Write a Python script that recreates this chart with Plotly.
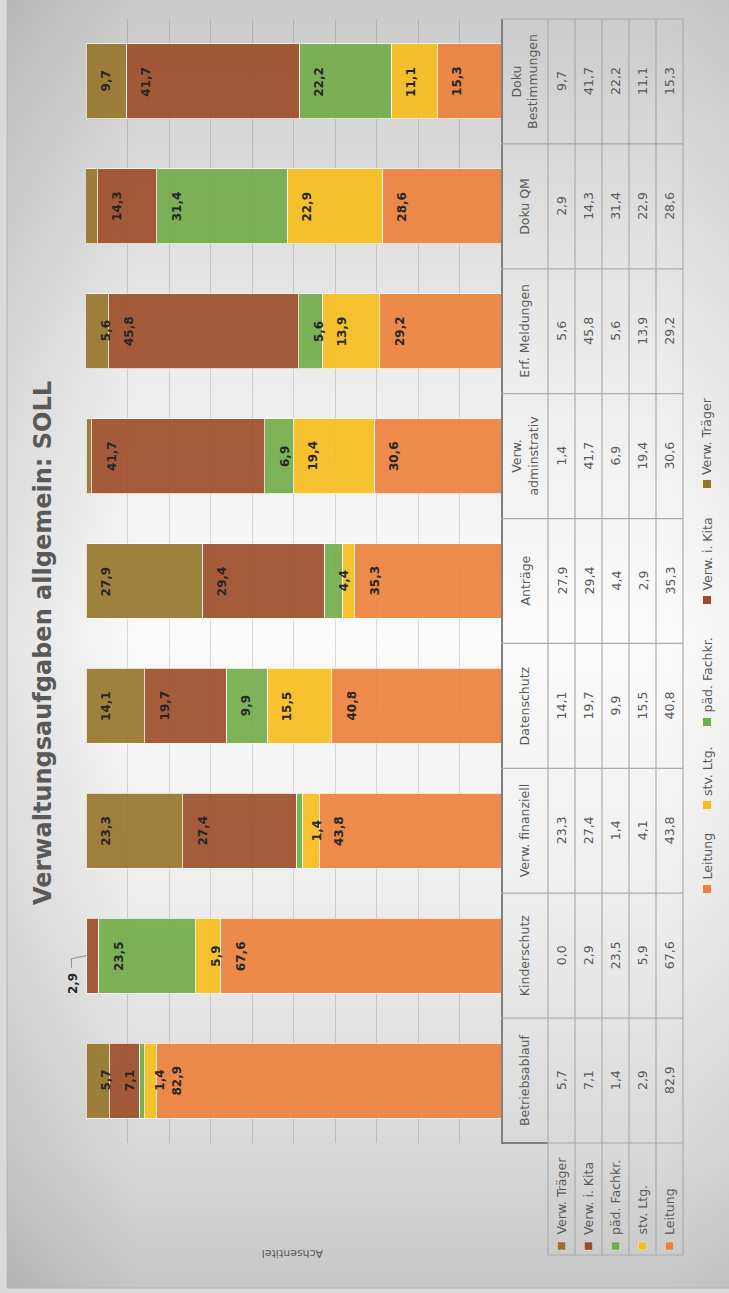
import base64
import plotly.graph_objects as go

# ---------------- data ----------------
categories = ["Betriebsablauf", "Kinderschutz", "Verw. finanziell", "Datenschutz", "Anträge",
              "Verw. adminstrativ", "Erf. Meldungen", "Doku QM", "Doku Bestimmungen"]
category_labels = ["Betriebsablauf", "Kinderschutz", "Verw. finanziell", "Datenschutz", "Anträge",
                   "Verw.<br>adminstrativ", "Erf. Meldungen", "Doku QM", "Doku<br>Bestimmungen"]
series_names = ["Leitung", "stv. Ltg.", "päd. Fachkr.", "Verw. i. Kita", "Verw. Träger"]

leitung      = [82.9, 67.6, 43.8, 40.8, 35.3, 30.6, 29.2, 28.6, 15.3]
stv_ltg      = [2.9, 5.9, 4.1, 15.5, 2.9, 19.4, 13.9, 22.9, 11.1]
paed_fachkr  = [1.4, 23.5, 1.4, 9.9, 4.4, 6.9, 5.6, 31.4, 22.2]
verw_kita    = [7.1, 2.9, 27.4, 19.7, 29.4, 41.7, 45.8, 14.3, 41.7]
verw_traeger = [5.7, 0.0, 23.3, 14.1, 27.9, 1.4, 5.6, 2.9, 9.7]

# which bar labels are shown inside the bars
show_leitung      = [True] * 9
show_stv_ltg      = [False, True, False, True, False, True, True, True, True]
show_paed_fachkr  = [True] * 9
show_verw_kita    = [True, False, True, True, True, True, True, True, True]
show_verw_traeger = [True, False, True, True, True, False, True, False, True]
# label moved outside the bar with a leader line (series, category)
callout = ("Verw. i. Kita", "Kinderschutz")

series_values = [leitung, stv_ltg, paed_fachkr, verw_kita, verw_traeger]
series_show = [show_leitung, show_stv_ltg, show_paed_fachkr, show_verw_kita, show_verw_traeger]
colors = ["#ED803B", "#F8BD1A", "#71AC48", "#9D4C27", "#96752A"]

title_text = "Verwaltungsaufgaben allgemein: SOLL"
axis_title = "Achsentitel"

# ---------------- layout geometry (pixels) ----------------
W, H = 729, 1293
PL, PR, PT, PB = 86, 501, 19, 1143          # plot area box
FONT = "DejaVu Sans"
GRAY = "#595959"


def fx(p):
    return (p - PL) / (PR - PL)


def fy(p):
    return (PB - p) / (PB - PT)


def fmt(v):
    return f"{v:.1f}".replace(".", ",")


def note(**kw):
    d = dict(showarrow=False, xanchor="center", yanchor="middle")
    d.update(kw)
    return d


fig = go.Figure()
for name, vals, col in zip(series_names, series_values, colors):
    fig.add_trace(go.Bar(
        y=categories, x=vals, orientation="h", name=name,
        marker=dict(color=col, opacity=0.9,
                    line=dict(color="rgba(255,255,255,0.75)", width=1)),
        hovertemplate="%{y}: %{x}<extra>" + name + "</extra>",
    ))

annotations = []
shapes = []

# bar labels (inside end)
cum = [0.0] * len(categories)
callout_pos = None
for name, vals, shows in zip(series_names, series_values, series_show):
    for j, v in enumerate(vals):
        cum[j] += v
        top = min(round(cum[j], 6), 100.0)
        if shows[j]:
            annotations.append(note(
                x=top, y=categories[j], xref="x", yref="y", text=fmt(v),
                textangle=-90, xshift=20,
                font=dict(family=FONT, size=12, color="#262626", weight="bold")))
        if (name, categories[j]) == callout:
            callout_pos = (top, j, v)

if callout_pos is not None:
    top, j, v = callout_pos
    annotations.append(note(
        x=top, y=categories[j], xref="x", yref="y", text=fmt(v),
        textangle=-90, xshift=-14, yshift=-28,
        font=dict(family=FONT, size=12, color="#262626", weight="bold")))
    xp = PL + (100 - top) / 100 * (PR - PL)
    yp = PB - (j + 0.5) * (PB - PT) / len(categories)
    pts = [(xp, yp), (xp - 15, yp + 3), (xp - 15, yp + 12)]
    path = "M " + " L ".join(f"{fx(a):.5f},{fy(b):.5f}" for a, b in pts)
    shapes.append(dict(type="path", xref="paper", yref="paper", path=path,
                       line=dict(color="#8C8C8C", width=1)))

# ---------------- background gradient ----------------
svg = ('<svg xmlns="http://www.w3.org/2000/svg" width="100" height="100" viewBox="0 0 100 100" '
       'preserveAspectRatio="none"><defs>'
       '<linearGradient id="v" x1="0" y1="0" x2="0" y2="1">'
       '<stop offset="0" stop-color="#C8C8C8"/><stop offset="0.1" stop-color="#D6D6D6"/>'
       '<stop offset="0.3" stop-color="#EDEDED"/><stop offset="0.5" stop-color="#FBFBFB"/>'
       '<stop offset="0.7" stop-color="#EEEEEE"/><stop offset="0.9" stop-color="#D8D8D8"/>'
       '<stop offset="1" stop-color="#C6C6C6"/></linearGradient>'
       '<linearGradient id="h" x1="0" y1="0" x2="1" y2="0">'
       '<stop offset="0" stop-color="#000" stop-opacity="0.09"/>'
       '<stop offset="0.18" stop-color="#000" stop-opacity="0"/>'
       '<stop offset="0.9" stop-color="#000" stop-opacity="0"/>'
       '<stop offset="1" stop-color="#000" stop-opacity="0.03"/></linearGradient>'
       '</defs><rect width="100" height="100" fill="url(#v)"/>'
       '<rect width="100" height="100" fill="url(#h)"/></svg>')
src = "data:image/svg+xml;base64," + base64.b64encode(svg.encode()).decode()
CX0, CX1, CY0, CY1 = 7, 740, -12, 1288
images = [dict(source=src, xref="paper", yref="paper", x=fx(CX0), y=fy(CY0),
               sizex=(CX1 - CX0) / (PR - PL), sizey=(CY1 - CY0) / (PB - PT),
               sizing="stretch", xanchor="left", yanchor="top", layer="below")]
shapes.append(dict(type="rect", xref="paper", yref="paper", x0=fx(CX0), x1=fx(CX1),
                   y0=fy(CY1), y1=fy(CY0), line=dict(color="#B4B4B4", width=1),
                   layer="below"))

# ---------------- data table ----------------
TX = [501, 548, 575, 602, 629, 656, 683]
ROW_BOTTOM = 1255
TC = "#ABABAB"
n = len(categories)
cat_h = (PB - PT) / n
for k in range(n + 1):
    yk = PB - k * cat_h
    shapes.append(dict(type="line", xref="paper", yref="paper", x0=fx(TX[1] if k == 0 else TX[0]),
                       x1=fx(TX[-1]), y0=fy(yk), y1=fy(yk), line=dict(color=TC, width=1.2)))
shapes.append(dict(type="line", xref="paper", yref="paper", x0=fx(TX[0]), x1=fx(TX[1]),
                   y0=fy(PB), y1=fy(PB), line=dict(color="#7F7F7F", width=2)))
for xk in TX[1:]:
    shapes.append(dict(type="line", xref="paper", yref="paper", x0=fx(xk), x1=fx(xk),
                       y0=fy(PT), y1=fy(ROW_BOTTOM), line=dict(color=TC, width=1.2)))
shapes.append(dict(type="line", xref="paper", yref="paper", x0=fx(TX[1]), x1=fx(TX[-1]),
                   y0=fy(ROW_BOTTOM), y1=fy(ROW_BOTTOM), line=dict(color=TC, width=1.2)))

for j, lab in enumerate(category_labels):
    annotations.append(note(x=fx((TX[0] + TX[1]) / 2), y=(j + 0.5) / n, xref="paper", yref="paper",
                            text=lab, textangle=-90,
                            font=dict(family=FONT, size=12.5, color=GRAY)))

table_rows = list(zip(series_names, series_values, colors))[::-1]
for r, (name, vals, col) in enumerate(table_rows):
    xc = (TX[r + 1] + TX[r + 2]) / 2
    for j, v in enumerate(vals):
        annotations.append(note(x=fx(xc), y=(j + 0.5) / n, xref="paper", yref="paper",
                                text=fmt(v), textangle=-90,
                                font=dict(family=FONT, size=12.5, color=GRAY)))
    # row header with legend key
    shapes.append(dict(type="rect", xref="paper", yref="paper", x0=fx(xc - 4), x1=fx(xc + 4),
                       y0=fy(1250), y1=fy(1242), fillcolor=col,
                       line=dict(width=0.5, color="rgba(255,255,255,0.6)")))
    annotations.append(note(x=fx(xc), y=fy(1237), xref="paper", yref="paper", text=name,
                            textangle=-90, yanchor="bottom",
                            font=dict(family=FONT, size=12.5, color=GRAY)))

# ---------------- legend (rotated) ----------------
LEG_X = 707
legend_key_y = [889, 805, 722, 600, 484]
for name, col, ky in zip(series_names, colors, legend_key_y):
    shapes.append(dict(type="rect", xref="paper", yref="paper", x0=fx(LEG_X - 4), x1=fx(LEG_X + 4),
                       y0=fy(ky + 4), y1=fy(ky - 4), fillcolor=col, line=dict(width=0)))
    annotations.append(note(x=fx(LEG_X), y=fy(ky - 7), xref="paper", yref="paper", text=name,
                            textangle=-90, yanchor="bottom",
                            font=dict(family=FONT, size=12.5, color=GRAY)))

# ---------------- titles ----------------
annotations.append(note(x=fx(43), y=fy(643), xref="paper", yref="paper", text=title_text,
                        textangle=-90,
                        font=dict(family=FONT, size=24, color=GRAY, weight="bold")))
annotations.append(note(x=fx(293), y=fy(1254), xref="paper", yref="paper", text=axis_title,
                        textangle=180,
                        font=dict(family=FONT, size=11, color=GRAY)))

fig.update_layout(
    width=W, height=H, autosize=False,
    margin=dict(l=PL, r=W - PR, t=PT, b=H - PB, pad=0),
    barmode="stack", bargap=0.4,
    showlegend=False,
    paper_bgcolor="#DADADA", plot_bgcolor="rgba(0,0,0,0)",
    font=dict(family=FONT, color=GRAY),
    xaxis=dict(range=[100, 0], showticklabels=False, ticks="", showgrid=True,
               gridcolor="rgba(0,0,0,0.13)", gridwidth=1, dtick=10, tick0=0, zeroline=False,
               showline=False, fixedrange=True),
    yaxis=dict(type="category", side="right", showticklabels=False, ticks="",
               showgrid=False, showline=True, linecolor="#7F7F7F", linewidth=2,
               zeroline=False, fixedrange=True),
    annotations=annotations, shapes=shapes, images=images,
)

fig.write_html("out.html", config={"displayModeBar": False},
               post_script="document.body.style.margin='0';")
